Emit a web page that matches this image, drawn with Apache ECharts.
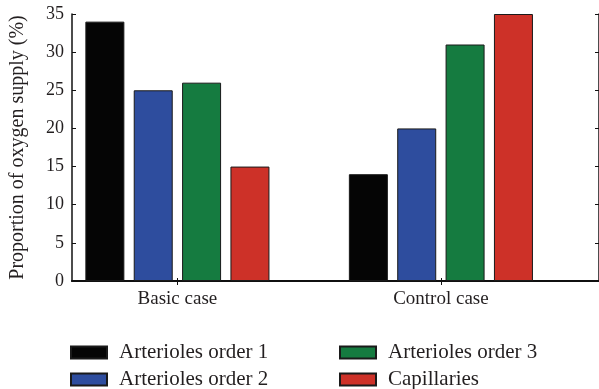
<!DOCTYPE html>
<html>
<head>
<meta charset="utf-8">
<script src="https://cdn.jsdelivr.net/npm/echarts@6/dist/echarts.min.js"></script>
<style>
  html, body { margin: 0; padding: 0; background: #fff; }
  #chart { width: 599px; height: 389px; }
</style>
</head>
<body>
<div id="chart"></div>
<script>
// Categories along the x axis (placed at x = 1, 2 on a numeric axis)
const categories = ['Basic case', 'Control case'];
const categoryPositions = [1, 2];

// Proportion of oxygen supply (%) per vessel type
const arteriolesOrder1 = [34, 14];
const arteriolesOrder2 = [25, 20];
const arteriolesOrder3 = [26, 31];
const capillaries = [15, 35];

const seriesNames = ['Arterioles order 1', 'Arterioles order 2', 'Arterioles order 3', 'Capillaries'];
const seriesValues = [arteriolesOrder1, arteriolesOrder2, arteriolesOrder3, capillaries];
const seriesColors = ['#050505', '#2e4d9e', '#157b40', '#cd3128'];

const yTicks = [0, 5, 10, 15, 20, 25, 30, 35];

const FONT = 'Liberation Serif';
const TEXT = '#231f20';
const LINE = '#111';

const chart = echarts.init(document.getElementById('chart'), null, { renderer: 'canvas' });

const series = seriesNames.map((name, i) => ({
  name: name,
  type: 'bar',
  xAxisIndex: 0,
  yAxisIndex: 0,
  barWidth: 39,
  barGap: '24%',
  itemStyle: { color: seriesColors[i], borderColor: '#1a1a1a', borderWidth: 1 },
  data: seriesValues[i].map((v, j) => [categoryPositions[j], v])
}));

// Two stacked legend columns below the plot
const legendBase = {
  orient: 'vertical',
  top: 342,
  height: 80,
  padding: 0,
  itemWidth: 36,
  itemHeight: 12,
  itemGap: 6,
  icon: 'rect',
  textStyle: { fontFamily: FONT, fontSize: 21, color: TEXT, lineHeight: 20, padding: [0, 0, 0, 7] }
};

chart.setOption({
  animation: false,
  grid: { left: 71.4, right: -1.8, top: 14, bottom: 108, containLabel: false },
  legend: [
    Object.assign({}, legendBase, { left: 70, data: [seriesNames[0], seriesNames[1]] }),
    Object.assign({}, legendBase, { left: 339, data: [seriesNames[2], seriesNames[3]] })
  ],
  xAxis: [
    {
      type: 'value', min: 0.6, max: 2.6, position: 'bottom',
      splitLine: { show: false },
      axisLine: { show: true, lineStyle: { color: LINE, width: 2 } },
      axisTick: { show: true, inside: true, length: 3, customValues: categoryPositions, lineStyle: { color: LINE } },
      axisLabel: {
        customValues: categoryPositions,
        margin: 9,
        fontFamily: FONT, fontSize: 19, color: TEXT,
        formatter: v => categories[categoryPositions.indexOf(v)] || ''
      }
    },
    {
      type: 'value', min: 0.6, max: 2.6, position: 'top',
      splitLine: { show: false },
      axisLine: { show: true, lineStyle: { color: LINE, width: 1.5 } },
      axisTick: { show: true, inside: true, length: 4, customValues: categoryPositions, lineStyle: { color: LINE } },
      axisLabel: { show: false }
    }
  ],
  yAxis: [
    {
      type: 'value', min: 0, max: 35, interval: 5, position: 'left',
      name: 'Proportion of oxygen supply (%)',
      nameLocation: 'middle', nameGap: 44, nameRotate: 90,
      nameTextStyle: { fontFamily: FONT, fontSize: 20, color: TEXT },
      splitLine: { show: false },
      axisLine: { show: true, lineStyle: { color: LINE, width: 1.5 } },
      axisTick: { show: true, inside: true, length: 4, lineStyle: { color: LINE } },
      axisLabel: {
        margin: 8, fontFamily: FONT, fontSize: 18, color: TEXT,
        formatter: v => (yTicks.indexOf(v) >= 0 ? String(v) : '')
      }
    },
    {
      type: 'value', min: 0, max: 35, interval: 5, position: 'right',
      splitLine: { show: false },
      axisLine: { show: true, lineStyle: { color: LINE, width: 1.5 } },
      axisTick: { show: true, inside: true, length: 4, lineStyle: { color: LINE } },
      axisLabel: { show: false }
    }
  ],
  series: series
});
</script>
</body>
</html>
